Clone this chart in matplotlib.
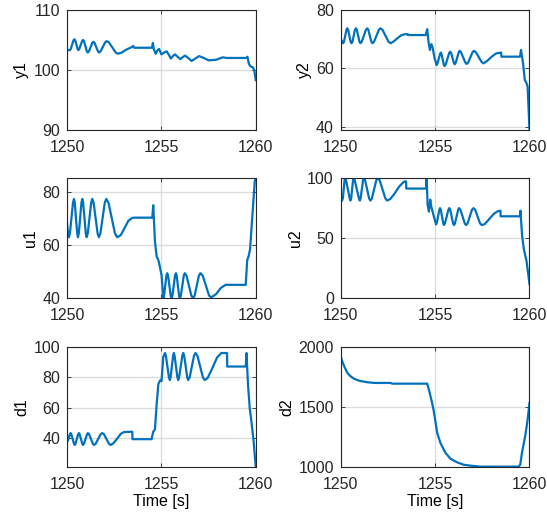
import matplotlib
matplotlib.use("Agg")
import matplotlib.pyplot as plt

# dados (tempo em s)
t_y1 = [1250.0, 1250.15, 1250.2, 1250.34, 1250.39, 1250.44, 1250.56, 1250.6, 1250.65, 1250.8,
        1250.85, 1250.9, 1251.05, 1251.1, 1251.16, 1251.34, 1251.4, 1251.46, 1251.64, 1251.7,
        1251.78, 1252.02, 1252.1, 1252.22, 1252.58, 1252.7, 1252.9, 1253.15, 1253.43, 1253.5,
        1253.56, 1254.5, 1254.55, 1254.6, 1254.7, 1254.8, 1254.88, 1255.0, 1255.15, 1255.28,
        1255.4, 1255.5, 1255.61, 1255.72, 1255.86, 1256.0, 1256.12, 1256.25, 1256.42, 1256.6,
        1256.8, 1257.0, 1257.25, 1257.5, 1257.9, 1258.25, 1258.45, 1259.5, 1259.56, 1259.64,
        1259.72, 1259.86, 1259.93, 1260.0]
y1 = [103.3, 103.3, 103.5, 104.9, 105.1, 104.9, 103.5, 103.3, 103.5, 104.8,
      105.0, 104.8, 103.1, 102.9, 103.1, 104.5, 104.7, 104.5, 103.1, 102.9,
      103.1, 104.6, 104.8, 104.6, 102.9, 102.7, 102.9, 103.4, 103.8, 104.0,
      103.7, 103.7, 104.5, 103.5, 102.7, 103.3, 103.5, 102.6, 102.9, 103.1,
      102.5, 101.9, 102.3, 102.6, 102.2, 101.8, 102.1, 102.4, 102.0, 101.5,
      101.9, 102.3, 102.0, 101.6, 101.7, 102.1, 102.0, 102.0, 102.2, 101.0,
      100.6, 100.4, 99.8, 98.3]

t_y2 = [1250.0, 1250.12, 1250.17, 1250.3, 1250.34, 1250.39, 1250.52, 1250.57, 1250.62, 1250.75,
        1250.8, 1250.85, 1250.99, 1251.04, 1251.11, 1251.33, 1251.4, 1251.46, 1251.62, 1251.68,
        1251.76, 1252.02, 1252.1, 1252.21, 1252.53, 1252.64, 1252.8, 1253.0, 1253.2, 1253.4,
        1253.55, 1253.56, 1254.5, 1254.58, 1254.65, 1254.72, 1254.8, 1254.87, 1254.97, 1255.08,
        1255.12, 1255.26, 1255.3, 1255.34, 1255.46, 1255.5, 1255.56, 1255.74, 1255.8, 1255.85,
        1255.99, 1256.04, 1256.09, 1256.25, 1256.3, 1256.37, 1256.6, 1256.67, 1256.75, 1256.98,
        1257.06, 1257.16, 1257.46, 1257.56, 1257.75, 1258.0, 1258.23, 1258.5, 1258.51, 1259.5,
        1259.55, 1259.66, 1259.75, 1259.84, 1259.9, 1260.0]
y2 = [70, 68.6, 69.1, 73.2, 73.7, 73.2, 69.1, 68.6, 69.1, 73.2,
      73.7, 73.2, 69.1, 68.6, 69.1, 73.2, 73.7, 73.2, 69.1, 68.6,
      69.1, 73.2, 73.7, 73.2, 69.1, 68.6, 69.2, 70.3, 71.3, 71.7,
      71.7, 71.4, 71.4, 73.4, 69, 66.3, 68.3, 67, 63.5, 61.1,
      61.6, 64.9, 65.4, 64.9, 61.3, 60.8, 61.3, 65.2, 65.7, 65.2,
      61.9, 61.4, 61.9, 65.5, 66, 65.5, 62, 61.5, 62, 65.5,
      66, 65.5, 62.2, 61.7, 62.5, 64, 65.1, 65.4, 64, 64,
      66.3, 61.7, 56, 55, 53.7, 39]

t_u1 = [1250.0, 1250.03, 1250.1, 1250.154, 1250.316, 1250.37, 1250.412, 1250.538, 1250.58, 1250.626,
        1250.764, 1250.81, 1250.856, 1250.994, 1251.04, 1251.10, 1251.28, 1251.34, 1251.41, 1251.62,
        1251.69, 1251.77, 1252.0, 1252.08, 1252.2, 1252.54, 1252.66, 1252.85, 1253.05, 1253.25,
        1253.45, 1253.55, 1254.52, 1254.57, 1254.6, 1254.66, 1254.75, 1254.84, 1254.9, 1255.01,
        1255.1, 1255.142, 1255.268, 1255.31, 1255.356, 1255.494, 1255.54, 1255.586, 1255.724, 1255.77,
        1255.812, 1255.938, 1255.98, 1256.032, 1256.188, 1256.24, 1256.33, 1256.59, 1256.68, 1256.76,
        1256.99, 1257.07, 1257.19, 1257.53, 1257.65, 1257.9, 1258.15, 1258.4, 1259.47, 1259.55,
        1259.63, 1259.7, 1259.95, 1260.0]
u1 = [68.4, 66, 63, 64.5, 76.0, 77.5, 76.0, 64.5, 63, 64.5,
      76.0, 77.5, 76.0, 64.5, 63, 64.5, 76.0, 77.5, 76.0, 64.5,
      63, 64.5, 76.0, 77.5, 76.0, 64.5, 63, 63.8, 66.5, 69.2,
      70.3, 70.4, 70.4, 75.1, 70.4, 61.4, 55.7, 54.4, 52.5, 48.7,
      40, 40.9, 48.5, 49.4, 48.5, 40.9, 40, 40.9, 48.5, 49.4,
      48.5, 40.9, 40, 40.9, 48.5, 49.4, 48.5, 40.9, 40, 40.9,
      48.5, 49.4, 48.5, 40.9, 40.3, 41.5, 43.8, 45, 45, 54.4,
      56, 58.5, 84.2, 85.4]

t_u2 = [1250.0, 1250.07, 1250.11, 1250.2, 1250.24, 1250.28, 1250.47, 1250.51, 1250.55, 1250.65,
        1250.69, 1250.74, 1250.96, 1251.01, 1251.05, 1251.18, 1251.22, 1251.29, 1251.5, 1251.57,
        1251.65, 1251.88, 1251.96, 1252.06, 1252.36, 1252.46, 1252.62, 1252.85, 1253.1, 1253.35,
        1253.46, 1253.47, 1254.52, 1254.55, 1254.6, 1254.67, 1254.74, 1254.8, 1254.93, 1255.05,
        1255.09, 1255.22, 1255.26, 1255.3, 1255.43, 1255.47, 1255.52, 1255.7, 1255.75, 1255.8,
        1255.95, 1256.0, 1256.05, 1256.22, 1256.27, 1256.34, 1256.57, 1256.64, 1256.72, 1256.95,
        1257.03, 1257.12, 1257.38, 1257.47, 1257.62, 1257.85, 1258.1, 1258.3, 1258.46, 1258.47,
        1259.5, 1259.52, 1259.61, 1259.7, 1259.84, 1260.0]
u2 = [84.8, 81.2, 83.1, 98.1, 100, 98.1, 83.1, 81.2, 83.1, 98.1,
      100, 98.1, 83.1, 81.2, 83.1, 98.1, 100, 98.1, 83.1, 81.2,
      83.1, 98.1, 100, 98.1, 83.1, 81.2, 82.5, 87, 93, 97,
      97.2, 91.2, 91.2, 100, 78, 72, 82, 76, 68, 61.3,
      62.7, 73.5, 74.9, 73.5, 62.2, 60.8, 62.2, 73.5, 74.9, 73.5,
      62.2, 60.8, 62.2, 73.5, 74.9, 73.5, 62.2, 60.8, 62.2, 73.5,
      74.9, 73.5, 62.2, 60.8, 61.5, 65.5, 70, 72.2, 72.8, 68.1,
      68.1, 72.8, 51.7, 40.7, 31.1, 11.8]

t_d1 = [1250.0, 1250.05, 1250.15, 1250.19, 1250.23, 1250.37, 1250.41, 1250.45, 1250.59, 1250.63,
        1250.67, 1250.81, 1250.85, 1250.9, 1251.06, 1251.11, 1251.17, 1251.37, 1251.43, 1251.52,
        1251.78, 1251.87, 1251.96, 1252.22, 1252.31, 1252.45, 1252.65, 1252.85, 1253.02, 1253.46,
        1253.47, 1254.48, 1254.57, 1254.66, 1254.75, 1254.84, 1254.93, 1255.01, 1255.1, 1255.19,
        1255.24, 1255.4, 1255.45, 1255.49, 1255.62, 1255.66, 1255.7, 1255.85, 1255.89, 1255.94,
        1256.11, 1256.16, 1256.21, 1256.37, 1256.42, 1256.5, 1256.73, 1256.81, 1256.91, 1257.2,
        1257.3, 1257.45, 1257.7, 1257.95, 1258.18, 1258.48, 1258.49, 1259.47, 1259.51, 1259.59,
        1259.68, 1259.77, 1259.89, 1260.0]
d1 = [37.5, 38.5, 42.5, 43.3, 42.5, 36.3, 35.5, 36.3, 42.5, 43.3,
      42.5, 36.3, 35.5, 36.3, 42.5, 43.3, 42.5, 36.3, 35.5, 36.3,
      42.5, 43.3, 42.5, 36.3, 35.5, 36.5, 39.5, 42.8, 44.0, 44.2,
      39.3, 39.3, 44.2, 45.8, 62.2, 75.5, 78, 77.5, 93.3, 96,
      94.2, 80, 78.2, 80, 94.2, 96, 94.2, 80, 78.2, 80,
      94.2, 96, 94.2, 80, 78.2, 80, 94.2, 96, 94.2, 80,
      78.2, 79.5, 86, 93, 96, 96, 87.1, 87.1, 96, 75.5,
      60, 51.1, 37.8, 21]

t_d2 = [1250.0, 1250.1, 1250.2, 1250.35, 1250.5, 1250.7, 1251.0, 1251.4, 1251.8, 1252.64,
        1252.73, 1254.58, 1254.67, 1254.84, 1254.93, 1255.11, 1255.28, 1255.55, 1255.81, 1256.16,
        1256.51, 1256.87, 1257.22, 1257.39, 1259.42, 1259.51, 1259.6, 1259.77, 1259.89, 1260.0]
d2 = [1917, 1870, 1832, 1783, 1758, 1735, 1717, 1706, 1700, 1700,
      1694, 1694, 1644, 1533, 1464, 1283, 1200, 1117, 1069, 1039,
      1019, 1011, 1006, 1003, 1003, 1019, 1117, 1256, 1381, 1533]

plt.rcParams['font.family'] = ['Liberation Sans', 'DejaVu Sans']
plt.rcParams['font.size'] = 11.5

fig = plt.figure(figsize=(5.47, 5.22), dpi=100)

# posicoes dos eixos (em fracao da figura)
esq = [0.1225, 0.623]
larg = 0.345
baixo = [0.751, 0.429, 0.1054]
alt = 0.23

paineis = [
    (t_y1, y1, 'y1', (90, 110), [90, 100, 110]),
    (t_y2, y2, 'y2', (38.9, 80), [40, 60, 80]),
    (t_u1, u1, 'u1', (40, 85.4), [40, 60, 80]),
    (t_u2, u2, 'u2', (0, 100), [0, 50, 100]),
    (t_d1, d1, 'd1', (21, 100), [40, 60, 80, 100]),
    (t_d2, d2, 'd2', (1000, 2000), [1000, 1500, 2000]),
]

for i, (t, v, nome, lim, ticks) in enumerate(paineis):
    linha, col = divmod(i, 2)
    ax = fig.add_axes([esq[col], baixo[linha], larg, alt])
    ax.plot(t, v, color='#0072BD', linewidth=1.6)
    ax.set_xlim(1250, 1260)
    ax.set_ylim(*lim)
    ax.set_xticks([1250, 1255, 1260])
    ax.set_yticks(ticks)
    ax.set_ylabel(nome, labelpad=3)
    ax.grid(True, color='#dcdcdc', linewidth=1.0)
    ax.set_axisbelow(True)
    ax.tick_params(direction='in', length=3, top=True, right=True,
                   colors='#262626', labelcolor='#262626', width=0.6)
    ax.tick_params(axis='x', pad=7)
    ax.tick_params(axis='y', pad=5)
    for s in ax.spines.values():
        s.set_color('#262626')
        s.set_linewidth(0.8)
    if linha == 2:
        ax.set_xlabel('Time [s]', labelpad=2)

plt.savefig('out.png', dpi=100)
